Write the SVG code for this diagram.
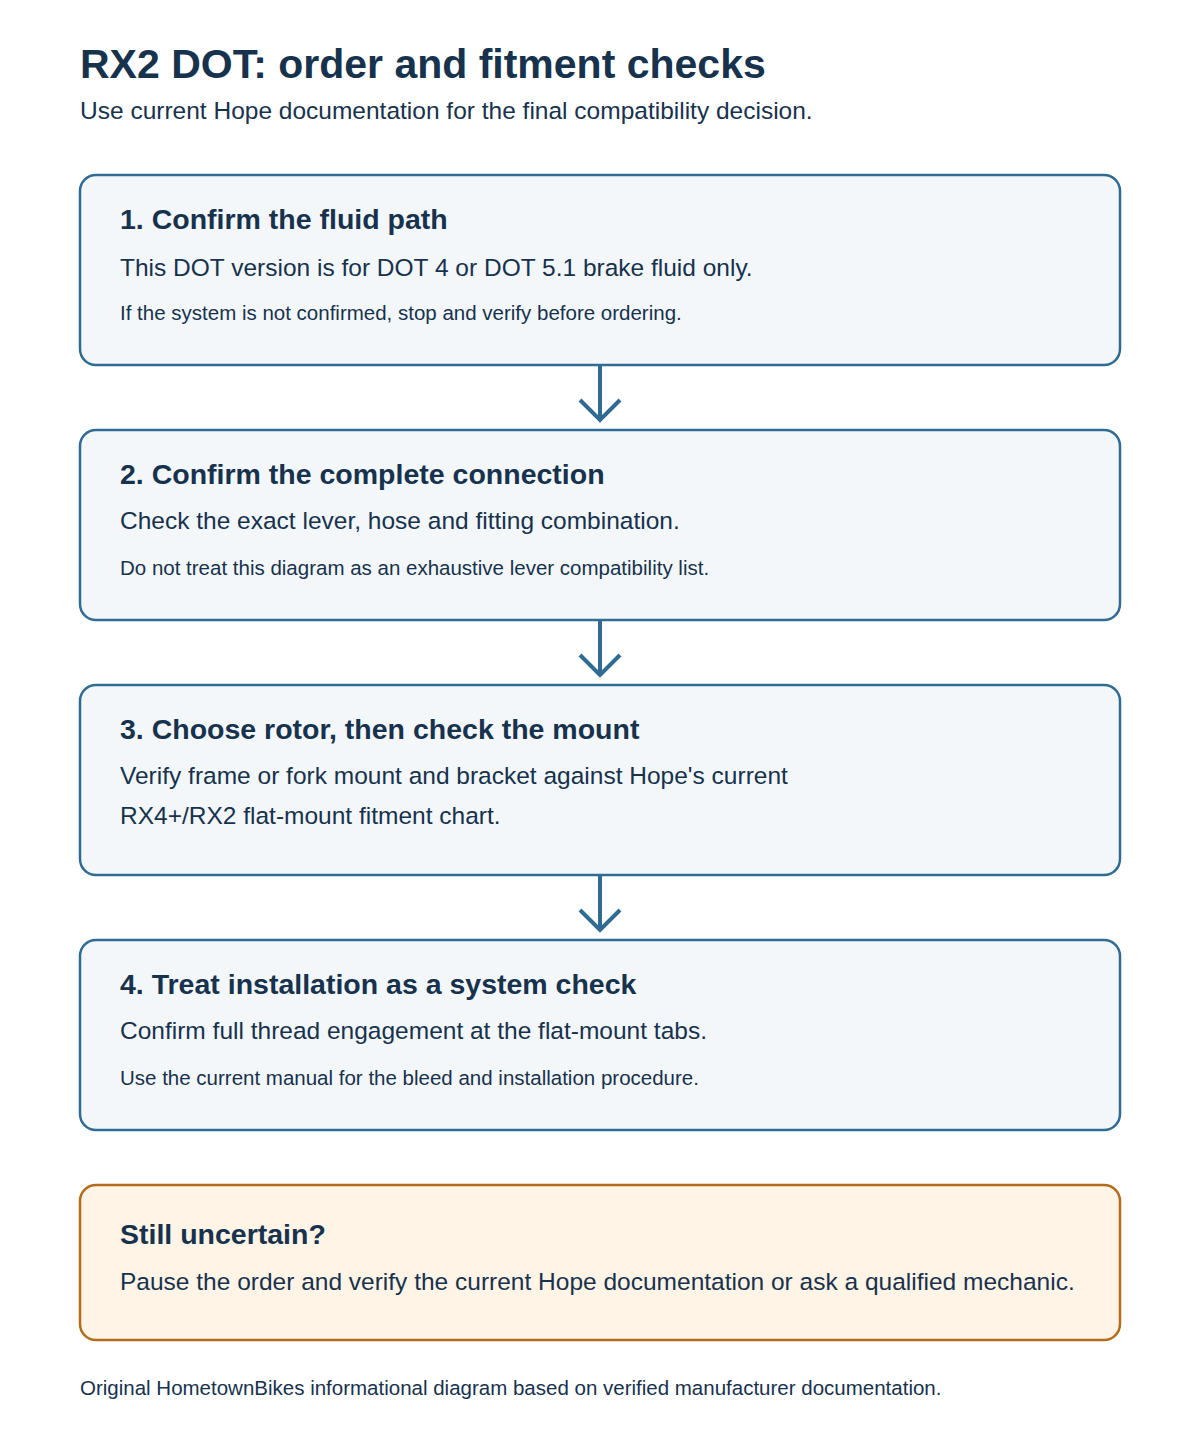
<svg xmlns="http://www.w3.org/2000/svg" width="1200" height="1440" viewBox="0 0 1200 1440">
<style>
text{font-family:"Liberation Sans",Arial,sans-serif;fill:#17324d}
.t{font-size:41px;font-weight:bold}
.s{font-size:24.5px}
.h{font-size:28.5px;font-weight:bold}
.b{font-size:24.5px}
.m{font-size:20.5px}
.box{fill:#f3f7fa;stroke:#2f6b93;stroke-width:2.5}
.warn{fill:#fff4e6;stroke:#b36b1c;stroke-width:2.5}
.c{fill:none;stroke:#2f6b93;stroke-width:4}
</style>
<rect width="1200" height="1440" fill="#fff"/>
<text class="t" x="80" y="78">RX2 DOT: order and fitment checks</text>
<text class="s" x="80" y="119">Use current Hope documentation for the final compatibility decision.</text>
<g id="step1"><rect class="box" x="80" y="175" width="1040" height="190" rx="16"/>
<text class="h" x="120" y="229">1. Confirm the fluid path</text>
<text class="b" x="120" y="276">This DOT version is for DOT 4 or DOT 5.1 brake fluid only.</text>
<text class="m" x="120" y="320">If the system is not confirmed, stop and verify before ordering.</text></g>
<g id="step2"><rect class="box" x="80" y="430" width="1040" height="190" rx="16"/>
<text class="h" x="120" y="484">2. Confirm the complete connection</text>
<text class="b" x="120" y="529">Check the exact lever, hose and fitting combination.</text>
<text class="m" x="120" y="575">Do not treat this diagram as an exhaustive lever compatibility list.</text></g>
<g id="step3"><rect class="box" x="80" y="685" width="1040" height="190" rx="16"/>
<text class="h" x="120" y="739">3. Choose rotor, then check the mount</text>
<text class="b" x="120" y="784">Verify frame or fork mount and bracket against Hope's current</text>
<text class="b" x="120" y="824">RX4+/RX2 flat-mount fitment chart.</text></g>
<g id="step4"><rect class="box" x="80" y="940" width="1040" height="190" rx="16"/>
<text class="h" x="120" y="994">4. Treat installation as a system check</text>
<text class="b" x="120" y="1039">Confirm full thread engagement at the flat-mount tabs.</text>
<text class="m" x="120" y="1085">Use the current manual for the bleed and installation procedure.</text></g>
<g id="uncertain"><rect class="warn" x="80" y="1185" width="1040" height="155" rx="16"/>
<text class="h" x="120" y="1244">Still uncertain?</text>
<text class="b" x="120" y="1290">Pause the order and verify the current Hope documentation or ask a qualified mechanic.</text></g>
<g id="connectors">
<path class="c" d="M600 365V420M580 400L600 420L620 400"/>
<path class="c" d="M600 620V675M580 655L600 675L620 655"/>
<path class="c" d="M600 875V930M580 910L600 930L620 910"/>
</g>
<text class="m" x="80" y="1395">Original HometownBikes informational diagram based on verified manufacturer documentation.</text>
</svg>
